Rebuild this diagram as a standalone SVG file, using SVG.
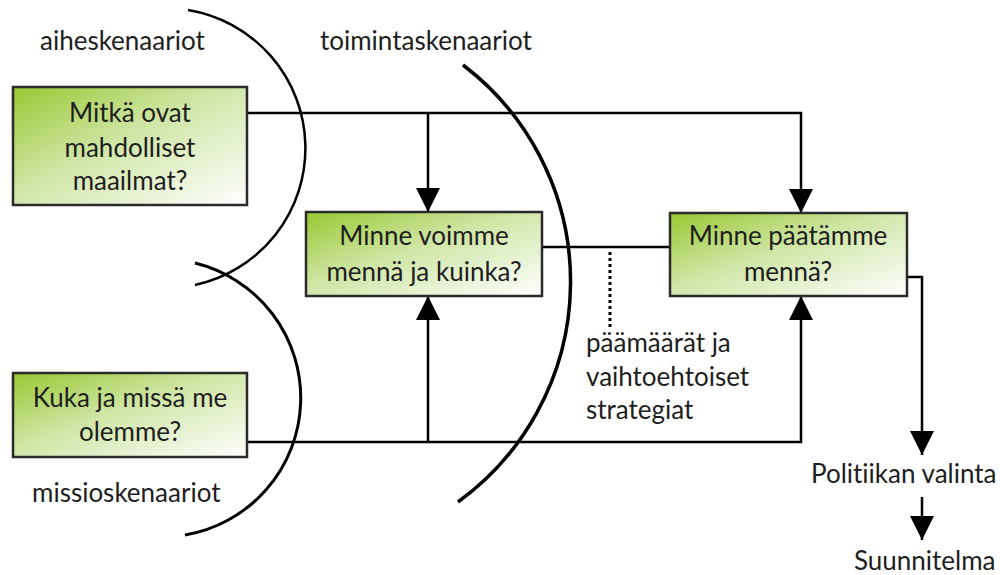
<svg xmlns="http://www.w3.org/2000/svg" width="1000" height="575" viewBox="0 0 1000 575">
  <defs>
    <linearGradient id="boxGrad" x1="0" y1="0" x2="1" y2="1">
      <stop offset="0" stop-color="#98c832"/>
      <stop offset="0.45" stop-color="#cfe6a6"/>
      <stop offset="1" stop-color="#ffffff"/>
    </linearGradient>
    <marker id="arrow" viewBox="0 0 24 24" refX="24" refY="12" markerWidth="24" markerHeight="24" markerUnits="userSpaceOnUse" orient="auto">
      <path d="M0,0 L24,12 L0,24 Z" fill="#000"/>
    </marker>
  </defs>
  <style>
    .box { fill: url(#boxGrad); stroke: #2b2b2b; stroke-width: 2.5; }
    .t { font-family: Lato, "Liberation Sans", sans-serif; font-size: 26px; fill: #1e1e1e; font-variant-ligatures: none; }
    .c { text-anchor: middle; }
    .line { fill: none; stroke: #000; stroke-width: 2.5; }
    .arc { fill: none; stroke: #000; }
  </style>
  <rect width="1000" height="575" fill="#fff"/>

  <g id="arcs">
    <path class="arc" stroke-width="2.5" d="M188,10 A140,140 0 0 1 195,285"/>
    <path class="arc" stroke-width="3" d="M195,263 A139,139 0 0 1 185,535"/>
    <path class="arc" stroke-width="3.5" d="M463,65 A272,272 0 0 1 458,502"/>
  </g>

  <g id="connectors">
    <path class="line" d="M247,113 H801 V213" marker-end="url(#arrow)"/>
    <path class="line" d="M428,113 V212" marker-end="url(#arrow)"/>
    <path class="line" d="M542,247 H670"/>
    <path class="line" d="M247,442 H801 V296" marker-end="url(#arrow)"/>
    <path class="line" d="M428,442 V296" marker-end="url(#arrow)"/>
    <path class="line" d="M907,277 H922 V455" marker-end="url(#arrow)"/>
    <path class="line" d="M922,497 V540" marker-end="url(#arrow)"/>
    <path fill="none" stroke="#000" stroke-width="3" stroke-dasharray="3,3" d="M610,252 V330"/>
  </g>

  <g id="node-mahdolliset">
    <rect class="box" x="13" y="87" width="234" height="118"/>
    <text class="t c" x="130" y="122">Mitkä ovat</text>
    <text class="t c" x="130" y="157">mahdolliset</text>
    <text class="t c" x="130" y="190">maailmat?</text>
  </g>

  <g id="node-kuka">
    <rect class="box" x="13" y="373" width="234" height="84"/>
    <text class="t c" x="130" y="407">Kuka ja missä me</text>
    <text class="t c" x="130" y="441">olemme?</text>
  </g>

  <g id="node-voimme">
    <rect class="box" x="306" y="212" width="236" height="84"/>
    <text class="t c" x="424" y="245">Minne voimme</text>
    <text class="t c" x="424" y="281">mennä ja kuinka?</text>
  </g>

  <g id="node-paatamme">
    <rect class="box" x="670" y="213" width="237" height="83"/>
    <text class="t c" x="788" y="245">Minne päätämme</text>
    <text class="t c" x="788" y="281">mennä?</text>
  </g>

  <g id="labels">
    <text class="t" x="40" y="50">aiheskenaariot</text>
    <text class="t" x="320" y="50">toimintaskenaariot</text>
    <text class="t" x="32" y="502">missioskenaariot</text>
    <text class="t" x="586" y="352">päämäärät ja</text>
    <text class="t" x="586" y="386">vaihtoehtoiset</text>
    <text class="t" x="586" y="419">strategiat</text>
    <text class="t" x="811" y="483">Politiikan valinta</text>
    <text class="t" x="854" y="570">Suunnitelma</text>
  </g>
</svg>
